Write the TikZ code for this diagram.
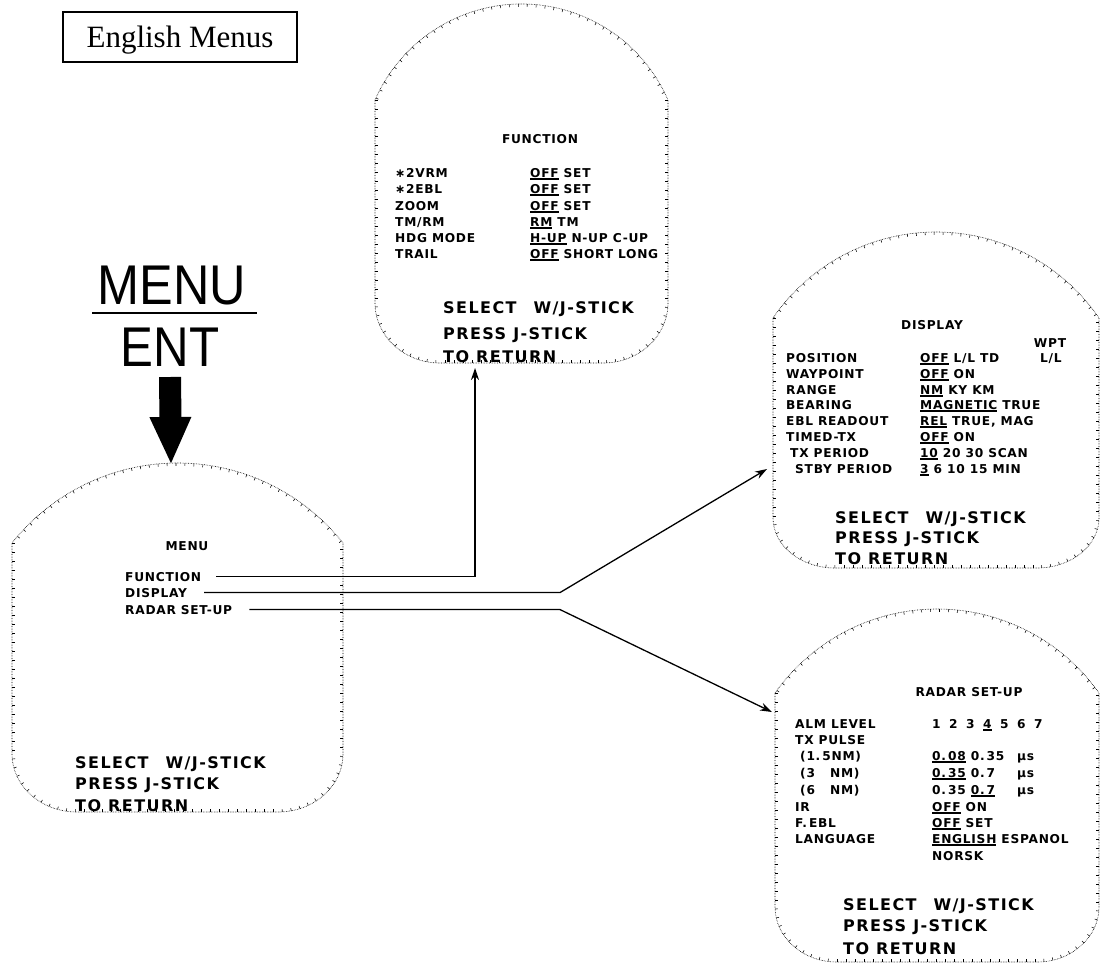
\documentclass[tikz,border=0pt]{standalone}
\usepackage{fontspec}
\usetikzlibrary{arrows.meta,decorations.markings}
\setmainfont{Liberation Serif}
\newfontfamily\keyfont{Liberation Sans}
\newfontfamily\crtsmallfont[LetterSpace=6]{DejaVu Sans}
\newfontfamily\crtbigfont[LetterSpace=9]{DejaVu Sans}
% underlined (selected) setting
\newcommand\crtul[1]{\setbox0=\hbox{#1}\rlap{\rule[-2.6pt]{\wd0}{1.2pt}}\box0\relax}
\newcommand\crtgap{\hspace{8.5pt}}
% radar screen outline: x1, x2, top of arc, top of sides, bottom, corner radii
\newcommand\crtscreen[7]{%
  \pgfmathsetmacro\crthw{(#2-#1)/2}%
  \pgfmathsetmacro\crthh{#4-#3}%
  \pgfmathsetmacro\crtrad{(\crthw/\crthh*\crthw+\crthh)/2}%
  \pgfmathsetmacro\crtang{asin(\crthw/\crtrad)}%
  \draw[crtedge] (#1,#4) -- (#1,#5-#7)
    arc[start angle=180,end angle=90,x radius=#6,y radius=#7]
    -- (#2-#6,#5)
    arc[start angle=90,end angle=0,x radius=#6,y radius=#7]
    -- (#2,#4)
    arc[start angle=270+\crtang,end angle=270-\crtang,radius=\crtrad]
    -- cycle;}
\begin{document}
\begin{tikzpicture}[x=1pt,y=-1pt,
  crtedge/.style={line width=0.6pt,dash pattern=on 0.6pt off 1.0pt,
    postaction={decorate,decoration={markings,
      mark=between positions 0 and 1 step 9pt with {\draw[solid,line width=0.55pt] (0,0) -- (0,2.8pt);}}}},
  sm/.style={font=\crtsmallfont\bfseries\fontsize{12.2}{12.2}\selectfont,anchor=base west,inner sep=0pt},
  bg/.style={font=\crtbigfont\bfseries\fontsize{16}{16}\selectfont,anchor=base west,inner sep=0pt},
  conn/.style={line width=1.3pt,-{Stealth[length=12pt,width=8pt]}},
  bigarrow/.style={line width=22pt,-{Triangle[length=48pt,width=38pt]}},
  titlebox/.style={draw,line width=1.2pt,minimum width=234pt,minimum height=50pt,
    text height=21pt,text depth=0pt,inner sep=0pt,font=\fontsize{31}{31}\selectfont},
  keylabel/.style={font=\keyfont\fontsize{56}{56}\selectfont,anchor=base,inner sep=0pt}]
\useasboundingbox (0,0) rectangle (1102,964);
\fill[white] (0,0) rectangle (1102,964);

% title
\node[titlebox] (title) at (180,37) {English Menus};

% MENU/ENT key and the big arrow onto the screen
\node[keylabel] (menukey) at (172,304) {\scalebox{0.9}[1]{MENU}};
\node[keylabel] (entkey) at (170,366) {\scalebox{0.88}[1]{ENT}};
\coordinate (keyl) at (92,313);
\coordinate (keyr) at (257,313);
\draw[line width=2pt] (keyl) -- (keyr);
\coordinate (menutop) at (171,465);
\draw[bigarrow] ([yshift=-11pt]entkey.base) -- (menutop);

% ---- MENU screen ----
\crtscreen{12}{343}{463}{543}{812}{65}{58}
\node[sm,anchor=base] (mtitle) at (187,550) {MENU};
\node[sm] (mfun) at (125,581) {FUNCTION};
\node[sm] (mdis) at (125,597) {DISPLAY};
\node[sm] (mrad) at (125,614) {RADAR SET-UP};
\node[bg] (msel) at (75,768) {SELECT\hspace{17pt}W/J-STICK};
\node[bg] (mpress) at (75,789) {PRESS J-STICK};
\node[bg] (mret) at (75,811) {TO RETURN};

% ---- FUNCTION screen ----
\crtscreen{375}{668}{4}{100}{363}{65}{60}
\node[sm,anchor=base] (ftitle) at (540,143) {FUNCTION};
\node[sm] (f1) at (395,177) {∗2VRM};
\node[sm] (f2) at (395,193) {∗2EBL};
\node[sm] (f3) at (395,210) {ZOOM};
\node[sm] (f4) at (395,226) {TM/RM};
\node[sm] (f5) at (395,242) {HDG MODE};
\node[sm] (f6) at (395,258) {TRAIL};
\node[sm] (fv1) at (530,177) {\crtul{OFF} SET};
\node[sm] (fv2) at (530,193) {\crtul{OFF} SET};
\node[sm] (fv3) at (530,210) {\crtul{OFF} SET};
\node[sm] (fv4) at (530,226) {\crtul{RM} TM};
\node[sm] (fv5) at (530,242) {\crtul{H-UP} N-UP C-UP};
\node[sm] (fv6) at (530,258) {\crtul{OFF} SHORT LONG};
\node[bg] (fsel) at (443,313) {SELECT\hspace{17pt}W/J-STICK};
\node[bg] (fpress) at (443,339) {PRESS J-STICK};
\node[bg] (fret) at (443,362) {TO RETURN};

% ---- DISPLAY screen ----
\crtscreen{773}{1099}{232}{318}{568}{62}{50}
\node[sm,anchor=base] (dtitle) at (932,329) {DISPLAY};
\node[sm,anchor=base] (dwpt) at (1050,347) {WPT};
\node[sm] (d1) at (786,362) {POSITION};
\node[sm] (d2) at (786,378) {WAYPOINT};
\node[sm] (d3) at (786,394) {RANGE};
\node[sm] (d4) at (786,409) {BEARING};
\node[sm] (d5) at (786,425) {EBL READOUT};
\node[sm] (d6) at (786,441) {TIMED-TX};
\node[sm] (d7) at (790,457) {TX PERIOD};
\node[sm] (d8) at (795,473) {STBY PERIOD};
\node[sm] (dv1) at (920,362) {\crtul{OFF} L/L TD};
\node[sm] (dv1b) at (1040,362) {L/L};
\node[sm] (dv2) at (920,378) {\crtul{OFF} ON};
\node[sm] (dv3) at (920,394) {\crtul{NM} KY KM};
\node[sm] (dv4) at (920,409) {\crtul{MAGNETIC} TRUE};
\node[sm] (dv5) at (920,425) {\crtul{REL} TRUE, MAG};
\node[sm] (dv6) at (920,441) {\crtul{OFF} ON};
\node[sm] (dv7) at (920,457) {\crtul{10} 20 30 SCAN};
\node[sm] (dv8) at (920,473) {\crtul{3} 6 10 15 MIN};
\node[bg] (dsel) at (835,523) {SELECT\hspace{17pt}W/J-STICK};
\node[bg] (dpress) at (835,543) {PRESS J-STICK};
\node[bg] (dret) at (835,564) {TO RETURN};

% ---- RADAR SET-UP screen ----
\crtscreen{775}{1099}{609}{693}{962}{62}{55}
\node[sm,anchor=base] (rtitle) at (969,696) {RADAR SET-UP};
\node[sm] (r1) at (795,728) {ALM LEVEL};
\node[sm] (r2) at (795,744) {TX PULSE};
\node[sm] (r3) at (800,760) {(1.\,5NM)};
\node[sm] (r4) at (800,777) {(3\phantom{.\,5}NM)};
\node[sm] (r5) at (800,794) {(6\phantom{.\,5}NM)};
\node[sm] (r6) at (795,811) {IR};
\node[sm] (r7) at (795,827) {F.\,EBL};
\node[sm] (r8) at (795,843) {LANGUAGE};
\node[sm] (rv1) at (932,728) {1\crtgap2\crtgap3\crtgap\crtul{4}\crtgap5\crtgap6\crtgap7};
\node[sm] (rv3) at (932,760) {\crtul{0.\,08} 0.\,35};
\node[sm] (rv4) at (932,777) {\crtul{0.\,35} 0.\,7};
\node[sm] (rv5) at (932,794) {0.\,35 \crtul{0.\,7}};
\node[sm] (ru3) at (1017,760) {μs};
\node[sm] (ru4) at (1017,777) {μs};
\node[sm] (ru5) at (1017,794) {μs};
\node[sm] (rv6) at (932,811) {\crtul{OFF} ON};
\node[sm] (rv7) at (932,827) {\crtul{OFF} SET};
\node[sm] (rv8) at (932,843) {\crtul{ENGLISH} ESPANOL};
\node[sm] (rv9) at (932,860) {NORSK};
\node[bg] (rsel) at (843,910) {SELECT\hspace{17pt}W/J-STICK};
\node[bg] (rpress) at (843,931) {PRESS J-STICK};
\node[bg] (rret) at (843,954) {TO RETURN};

% ---- connectors from the menu items to their screens ----
\coordinate (funin) at (475,368);
\coordinate (bend) at (560,0);
\coordinate (disin) at (767,469);
\coordinate (radin) at (772,712);
\draw[conn] ([xshift=15pt]mfun.east) -| (funin);
\draw[conn] ([xshift=17pt]mdis.east) -- (mdis.east -| bend) -- (disin);
\draw[conn] ([xshift=17pt]mrad.east) -- (mrad.east -| bend) -- (radin);
\end{tikzpicture}
\end{document}
